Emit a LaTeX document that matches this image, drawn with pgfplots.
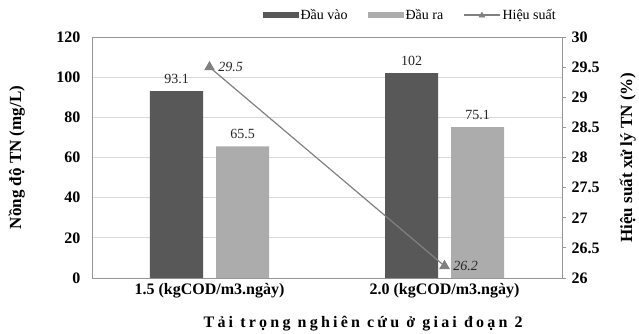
\documentclass[border=0pt]{standalone}
\usepackage{fontspec}
\setmainfont{Liberation Serif}
\newfontfamily\spacedfont[LetterSpace=20]{Liberation Serif}
\usepackage{pgfplots}
\pgfplotsset{compat=1.18}
\definecolor{darkbar}{RGB}{88,88,88}
\definecolor{lightbar}{RGB}{172,172,172}
\definecolor{linegray}{RGB}{128,128,128}
\definecolor{gridgray}{RGB}{217,217,217}
\definecolor{axisgray}{RGB}{150,150,150}
\pgfplotsset{
  darkleg/.style={legend image code/.code={\fill[darkbar] (0pt,-3pt) rectangle (36pt,3pt);}},
  lightleg/.style={legend image code/.code={\fill[lightbar] (0pt,-3pt) rectangle (36pt,3pt);}},
  lineleg/.style={legend image code/.code={\draw[linegray, line width=1.2pt] (0pt,0pt) -- (36pt,0pt); \fill[linegray] (18pt,3pt) -- (15pt,-2pt) -- (21pt,-2pt) -- cycle;}},
}
\begin{document}
\begin{tikzpicture}
\useasboundingbox (-92pt,-55pt) rectangle (547pt,278pt);
\begin{axis}[
  at={(0pt,0pt)}, anchor=south west,
  scale only axis, width=470pt, height=241pt,
  xmin=-0.5, xmax=1.5, ymin=0, ymax=120,
  ytick={0,20,...,120},
  xtick={0,1},
  xticklabels={1.5 (kgCOD/m3.ngày),2.0 (kgCOD/m3.ngày)},
  /pgf/number format/assume math mode=true,
  ticklabel style={font=\rmfamily\fontsize{16}{18}\selectfont\bfseries},
  xticklabel style={yshift=-2pt},
  yticklabel style={xshift=-8pt},
  major tick length=0pt,
  ymajorgrids, grid style={draw=gridgray, line width=0.7pt},
  axis line style={draw=axisgray, line width=0.8pt},
  ylabel={Nồng độ TN (mg/L)},
  ylabel style={at={(axis description cs:-0.16,0.5)}, anchor=center, font=\rmfamily\fontsize{17}{19}\selectfont\bfseries},
  xlabel={Tải trọng nghiên cứu ở giai đoạn 2},
  xlabel style={at={(axis description cs:0.577,-0.19)}, anchor=center, font=\spacedfont\fontsize{16}{18}\selectfont\bfseries},
  legend columns=3,
  legend style={at={(axis description cs:0.677,1.091)}, anchor=center, draw=none, fill=none,
    font=\rmfamily\fontsize{14}{16}\selectfont, /tikz/every even column/.append style={column sep=18pt}},
  ybar, bar width=53pt,
  nodes near coords, point meta=explicit symbolic,
  every node near coord/.append style={font=\rmfamily\fontsize{14}{16}\selectfont, yshift=4pt, text=black!85},
]
\addplot[fill=darkbar, draw=none, bar shift=-33pt, darkleg]
  coordinates {(0,93.1) [93.1] (1,102) [102]};
\addlegendentry{Đầu vào}
\addplot[fill=lightbar, draw=none, bar shift=33pt, lightleg]
  coordinates {(0,65.5) [65.5] (1,75.1) [75.1]};
\addlegendentry{Đầu ra}
\addlegendimage{lineleg}
\addlegendentry{Hiệu suất}
\end{axis}
\begin{axis}[
  at={(0pt,0pt)}, anchor=south west,
  scale only axis, width=470pt, height=241pt,
  xmin=-0.5, xmax=1.5, ymin=26, ymax=30,
  axis x line=none, axis y line*=right,
  ytick={26,26.5,...,30},
  /pgf/number format/assume math mode=true,
  yticklabel style={font=\rmfamily\fontsize{16}{18}\selectfont\bfseries, xshift=2pt},
  tick align=outside, major tick length=4pt,
  tick style={draw=axisgray, line width=0.8pt},
  axis line style={draw=axisgray, line width=0.8pt},
  ylabel={Hiệu suất xử lý TN (\%)},
  ylabel style={at={(axis description cs:1.140,0.5)}, anchor=center, font=\rmfamily\fontsize{17}{19}\selectfont\bfseries},
  nodes near coords, point meta=explicit symbolic,
  every node near coord/.append style={font=\rmfamily\fontsize{14}{16}\selectfont\itshape, anchor=west, xshift=5pt, yshift=0pt, text=black!85},
]
\addplot[linegray, line width=1.2pt, mark=triangle*, mark size=5pt, mark options={fill=linegray}]
  coordinates {(0,29.5) [29.5] (1,26.2) [26.2]};
\end{axis}
\end{tikzpicture}
\end{document}
